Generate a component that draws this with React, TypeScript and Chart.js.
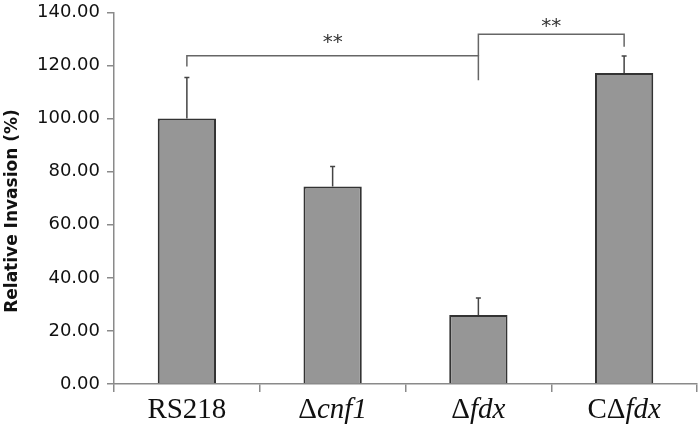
import React, { useEffect, useRef } from "react";
import { Chart, registerables } from "chart.js";

Chart.register(...registerables);

const categories = ["RS218", "Δcnf1", "Δfdx", "CΔfdx"];
const italicParts = ["", "cnf1", "fdx", "fdx"];
const invasion = [100.0, 74.4, 26.0, 117.2];
const errorTop = [115.5, 81.9, 32.4, 123.6];
const yTicks = [0, 20, 40, 60, 80, 100, 120, 140];

// significance brackets: [from category, to category]
const bracketPairs = [[0, 2], [2, 3]];
const bracketLevel = [123.7, 131.8];
const bracketLeftFoot = [119.6, 123.7];
const bracketRightFoot = [114.4, 127.1];
const bracketLabels = ["**", "**"];
const bracketLabelLevel = [129.5, 135.7];

const yTitle = "Relative Invasion (%)";

const overlayPlugin = {
  id: "overlay",
  afterDatasetsDraw(chart: any) {
    const ctx = chart.ctx;
    const x = chart.scales.x;
    const y = chart.scales.y;
    ctx.save();
    // error bars (upper only)
    ctx.strokeStyle = "#444";
    ctx.lineWidth = 1.5;
    for (let i = 0; i < invasion.length; i++) {
      const px = x.getPixelForValue(i);
      const top = y.getPixelForValue(errorTop[i]);
      const base = y.getPixelForValue(invasion[i]);
      ctx.beginPath();
      ctx.moveTo(px, base);
      ctx.lineTo(px, top);
      ctx.moveTo(px - 2.5, top);
      ctx.lineTo(px + 2.5, top);
      ctx.stroke();
    }
    // brackets
    ctx.strokeStyle = "#666";
    ctx.lineWidth = 1.5;
    for (let b = 0; b < bracketPairs.length; b++) {
      const x1 = x.getPixelForValue(bracketPairs[b][0]);
      const x2 = x.getPixelForValue(bracketPairs[b][1]);
      const yl = y.getPixelForValue(bracketLevel[b]);
      ctx.beginPath();
      ctx.moveTo(x1, y.getPixelForValue(bracketLeftFoot[b]));
      ctx.lineTo(x1, yl);
      ctx.lineTo(x2, yl);
      ctx.lineTo(x2, y.getPixelForValue(bracketRightFoot[b]));
      ctx.stroke();
      ctx.fillStyle = "#333";
      ctx.font = "20px 'DejaVu Sans'";
      ctx.textAlign = "center";
      ctx.textBaseline = "middle";
      ctx.fillText(bracketLabels[b], (x1 + x2) / 2, y.getPixelForValue(bracketLabelLevel[b]) + 3);
    }
    ctx.restore();
  },
  afterDraw(chart: any) {
    const ctx = chart.ctx;
    const x = chart.scales.x;
    const y = chart.scales.y;
    ctx.save();
    // category labels with italic gene names
    ctx.fillStyle = "#111";
    ctx.textBaseline = "alphabetic";
    ctx.textAlign = "left";
    const reg = "29px 'Liberation Serif'";
    const ita = "italic 29px 'Liberation Serif'";
    for (let i = 0; i < categories.length; i++) {
      const full = categories[i];
      const it = italicParts[i];
      const pre = it ? full.slice(0, full.length - it.length) : full;
      ctx.font = reg;
      const w1 = ctx.measureText(pre).width;
      ctx.font = ita;
      const w2 = it ? ctx.measureText(it).width : 0;
      const cx = x.getPixelForValue(i);
      const start = cx - (w1 + w2) / 2;
      const base = y.bottom + 34;
      ctx.font = reg;
      ctx.fillText(pre, start, base);
      if (it) {
        ctx.font = ita;
        ctx.fillText(it, start + w1, base);
      }
    }
    // y axis title
    ctx.translate(13, 211);
    ctx.rotate(-Math.PI / 2);
    ctx.font = "bold 17px 'DejaVu Sans'";
    ctx.textAlign = "center";
    ctx.textBaseline = "middle";
    ctx.fillStyle = "#111";
    ctx.fillText(yTitle, 0, 0);
    ctx.restore();
  },
};

export default function App() {
  const ref = useRef<HTMLCanvasElement | null>(null);
  useEffect(() => {
    if (!ref.current) return;
    const chart = new Chart(ref.current, {
      type: "bar",
      data: {
        labels: categories,
        datasets: [
          {
            data: invasion,
            backgroundColor: "#969696",
            borderColor: "#333",
            borderWidth: 2,
            categoryPercentage: 1,
            barPercentage: 0.4,
          },
        ],
      },
      options: {
        responsive: false,
        animation: false,
        layout: { padding: { top: 11, right: 3, left: 0, bottom: 0 } },
        plugins: { legend: { display: false }, tooltip: { enabled: false } },
        scales: {
          x: {
            offset: true,
            afterFit: (s: any) => {
              s.height = 50;
            },
            border: { color: "#8a8a8a", width: 1.5 },
            grid: {
              offset: true,
              drawOnChartArea: false,
              drawTicks: true,
              tickLength: 8,
              color: "#8a8a8a",
              lineWidth: 1.5,
            },
            ticks: { display: false },
          },
          y: {
            min: 0,
            max: 140,
            afterFit: (s: any) => {
              s.width = 114;
            },
            afterBuildTicks: (s: any) => {
              s.ticks = yTicks.map((v) => ({ value: v }));
            },
            border: { color: "#8a8a8a", width: 1.5 },
            grid: {
              drawOnChartArea: false,
              drawTicks: true,
              tickLength: 7,
              color: "#8a8a8a",
              lineWidth: 1.5,
            },
            ticks: {
              padding: 7,
              color: "#111",
              font: { family: "'DejaVu Sans'", size: 18, lineHeight: 0.6 },
              callback: (v: any) => Number(v).toFixed(2),
            },
          },
        },
      },
      plugins: [overlayPlugin],
    });
    return () => chart.destroy();
  }, []);
  return (
    <div style={{ position: "absolute", left: 0, top: 0, width: 700, height: 434, background: "#fff" }}>
      <canvas ref={ref} width={700} height={434} style={{ display: "block" }} />
    </div>
  );
}
